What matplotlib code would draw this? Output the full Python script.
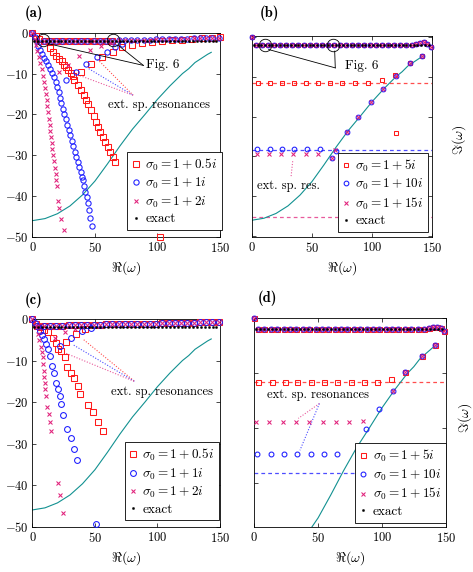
import matplotlib
matplotlib.use('Agg')
import matplotlib.pyplot as plt

plt.rcParams.update({
    'font.family': 'serif', 'font.serif': ['cmr10'], 'mathtext.fontset': 'cm',
    'axes.formatter.use_mathtext': True, 'font.size': 9, 'axes.linewidth': 0.6,
})

RED = '#ff1a1a'; BLUE = '#1a1aff'; MAG = '#e0207a'; TEAL = '#129191'
RED_L = '#ff4d4d'; BLUE_L = '#4d4dff'; MAG_L = '#e85a9c'

# ---------------- shared data ----------------
exact_re = [1.5, 4.6, 7.7, 10.8, 13.9, 17.0, 20.1, 23.2, 26.3, 29.4, 32.5, 35.6, 38.7, 41.8, 44.9, 48.0,
            51.1, 54.2, 57.3, 60.4, 63.5, 66.6, 69.7, 72.8, 75.9, 79.0, 82.1, 85.2, 88.3, 91.4, 94.5, 97.6,
            100.7, 103.8, 106.9, 110.0, 113.1, 116.2, 119.3, 122.4, 125.5, 128.6, 131.7, 134.8, 137.9,
            141.0, 144.1, 147.2]
exact_im = [-2.0, -2.0, -2.0, -2.0, -2.0, -2.0, -2.0, -2.0, -2.0, -2.0, -2.0, -2.0, -2.0, -2.0, -2.0, -2.0,
            -2.0, -2.0, -2.0, -2.0, -2.0, -2.0, -2.0, -2.0, -2.0, -2.0, -2.0, -2.0, -2.0, -2.0, -2.0, -2.0,
            -2.0, -2.0, -2.0, -2.0, -2.0, -2.0, -2.0, -2.0, -2.0, -2.0, -2.0, -2.0, -2.0, -2.0, -2.0, -2.0]

teal_re = [0, 10, 20, 30, 40, 50, 60, 70, 80, 90, 100, 110, 120, 125, 130, 135, 140, 143]
teal_im = [-46.0, -45.5, -44.3, -42.4, -39.7, -36.3, -32.1, -27.7, -23.6, -20.0, -16.3, -13.0, -10.0,
           -8.8, -7.3, -6.3, -5.3, -4.8]

xticks = [0, 50, 100, 150]

# ---------------- panel (a) ----------------
a_band_re = [4, 9, 14, 19, 24, 29, 34, 39, 44, 49, 54, 59, 64, 69, 74, 79, 84, 89, 94, 99, 104, 109,
             114, 119, 124, 129, 134, 139, 144, 149]
a_band_im = [-2.0, -2.0, -2.0, -2.0, -2.0, -2.0, -2.0, -2.0, -2.0, -2.0, -2.0, -2.0, -2.0, -1.9, -1.9,
             -1.8, -1.8, -1.7, -1.7, -1.6, -1.6, -1.6, -1.5, -1.5, -1.5, -1.4, -1.4, -1.3, -1.3, -1.2]
a_red_re = [0.0, 2.5, 5.0, 13.7, 16.4, 19.0, 20.9, 23.3, 25.1, 27.0, 28.3, 30.5, 32.3, 33.6, 36.3, 39.0,
            41.1, 43.0, 44.3, 46.9, 49.1, 50.9, 52.3, 54.4, 56.3, 58.1, 60.2, 62.4, 64.2, 66.1, 102.0,
            39.0, 46.9, 55.5, 64.2, 72, 80, 88, 96, 104, 112, 120, 128, 136, 144, 150,
            9, 14, 19, 24, 29, 34, 39, 44, 49, 54, 59, 64]
a_red_im = [0.0, -0.8, -1.5, -3.8, -4.6, -5.6, -6.4, -7.0, -7.9, -8.5, -9.1, -9.9, -10.6, -11.5, -12.8,
            -14.0, -15.2, -16.5, -17.5, -18.9, -20.3, -21.8, -23.0, -24.2, -25.5, -26.7, -27.9, -29.1,
            -30.4, -31.6, -50.0,
            -9.5, -7.7, -6.0, -4.6, -3.4, -2.9, -2.6, -2.3, -2.1, -1.9, -1.7, -1.5, -1.4, -1.2, -1.1,
            -2.0, -2.0, -2.0, -2.0, -2.0, -2.0, -2.0, -2.0, -2.0, -2.0, -2.0, -2.0]
a_blue_re = [0.0, 2.0, 4.4, 6.0, 7.6, 9.2, 10.8, 12.4, 14.0, 15.6, 17.3, 19.0, 20.0, 21.2, 22.1, 23.0,
             24.2, 25.4, 26.6, 27.8, 28.9, 30.1, 31.3, 32.6, 33.8, 35.0, 36.1, 37.3, 38.6, 39.6, 40.3,
             41.3, 42.3, 43.3, 44.3, 45.3, 46.3, 47.4,
             27.2, 35.1, 42.9, 51.5, 59.8, 66.0, 72.0]
a_blue_im = [0.0, -1.0, -3.3, -4.2, -5.1, -6.1, -7.0, -8.0, -9.0, -9.9, -10.9, -12.0, -13.3, -14.5,
             -15.9, -17.3, -18.6, -19.9, -21.2, -22.5, -23.8, -25.1, -26.4, -27.7, -29.1, -30.4, -31.6,
             -32.9, -34.2, -35.2, -36.1, -37.5, -38.9, -40.3, -41.8, -43.3, -45.4, -47.4,
             -11.6, -9.6, -7.7, -6.0, -4.6, -3.5, -2.7]
a_mag_re = [0.0, 2.0, 3.0, 4.0, 5.1, 6.2, 7.3, 8.3, 9.2, 10.0, 10.7, 11.3, 11.9, 12.5, 13.1, 13.7, 14.3,
            14.9, 15.4, 16.0, 16.6, 17.3, 17.9, 18.6, 19.2, 19.8, 20.5, 21.6, 23.0, 25.0,
            21.5, 28.5, 37.5, 46.2, 55.0, 63.0]
a_mag_im = [0.0, -1.5, -3.0, -4.5, -6.0, -7.5, -9.0, -10.5, -12.0, -13.5, -15.0, -16.5, -18.0, -19.5,
            -21.0, -22.5, -24.0, -25.5, -27.0, -28.5, -30.0, -31.5, -33.0, -34.5, -36.0, -37.5, -41.3,
            -43.0, -45.5, -48.2,
            -9.6, -7.8, -5.8, -4.2, -3.2, -2.6]
a_fig6_circ_re = [8.8, 64.7]
a_fig6_circ_im = [-1.9, -1.7]
a_fig6_from_re = [12.8, 68.7]
a_fig6_from_im = [-2.7, -3.1]
a_fig6_to = [88.7, -8.0]
a_fig6_text = [91.0, -8.0]
a_res_from_re = [52.0, 45.0, 38.0]
a_res_from_im = [-6.5, -8.8, -10.5]
a_res_to = [80.5, -15.3]
a_res_text = [101.0, -17.6]

# ---------------- panel (c) ----------------
c_band_re = a_band_re
c_band_im = [-1.7, -1.7, -1.6, -1.6, -1.6, -1.5, -1.5, -1.5, -1.4, -1.4, -1.4, -1.3, -1.3, -1.3, -1.2,
             -1.2, -1.2, -1.1, -1.1, -1.1, -1.0, -1.0, -1.0, -0.9, -0.9, -0.9, -0.8, -0.8, -0.8, -0.7]
c_red_re = [0.0, 3.0, 6.0, 9.5, 12.4, 16.4, 19.0, 23.0, 25.7, 27.8, 30.5, 33.1, 36.3, 38.4, 44.3, 48.3,
            52.3, 56.3, 20.5, 27.0, 34.5, 42.0]
c_red_im = [0.0, -1.2, -2.0, -2.6, -3.2, -4.6, -5.9, -7.6, -9.2, -11.5, -12.9, -14.2, -16.1, -18.1,
            -20.7, -22.5, -24.7, -27.1, -7.3, -5.5, -3.5, -2.4]
c_blue_re = [0.0, 2.0, 5.7, 7.4, 9.2, 10.8, 12.4, 14.0, 15.6, 17.2, 19.0, 20.4, 21.7, 23.0, 24.5, 27.8,
             30.5, 33.1, 35.8, 50.8, 21.7, 31.2, 39.3, 47.0]
c_blue_im = [0.0, -1.0, -2.8, -3.8, -4.8, -6.0, -7.2, -8.8, -11.3, -12.9, -15.3, -16.9, -18.5, -20.5,
             -23.2, -26.5, -28.7, -31.4, -34.0, -49.4, -6.4, -4.5, -3.0, -2.2]
c_mag_re = [0.0, 2.8, 4.4, 5.6, 7.0, 7.8, 8.4, 8.8, 9.2, 9.5, 9.7, 10.2, 11.0, 11.8, 12.9, 13.7, 14.5,
            20.5, 22.3, 24.5, 18.0, 26.0, 34.0]
c_mag_im = [0.0, -2.0, -3.6, -5.0, -6.8, -8.0, -9.2, -10.8, -12.5, -14.0, -15.3, -16.9, -18.5, -21.3,
            -22.9, -24.9, -27.1, -39.5, -42.3, -46.7, -4.6, -3.2, -2.3]
c_res_from_re = [41.0, 33.0, 27.0]
c_res_from_im = [-5.0, -6.3, -8.3]
c_res_to = [82.0, -15.1]
c_res_text = [104.0, -17.6]

# ---------------- panel (b) ----------------
b_band_re = [0, 3, 8, 13, 18, 23, 28, 33, 38, 43, 48, 53, 58, 63, 68, 73, 78, 83, 88, 93, 98, 103, 108,
             113, 118, 123, 128, 133, 137, 140, 143, 146, 149]
b_band_im = [0.0, -2.0, -2.0, -2.0, -2.0, -2.0, -2.0, -2.0, -2.0, -2.0, -2.0, -2.0, -2.0, -2.0, -2.0,
             -2.0, -2.0, -2.0, -2.0, -2.0, -2.0, -2.0, -2.0, -2.0, -2.0, -2.0, -2.0, -2.0, -1.8, -1.5,
             -1.4, -1.7, -2.5]
b_red_re = [5, 15, 25, 35, 45, 55, 65, 75, 86, 97, 108, 119, 132, 142, 120]
b_red_im = [-11.5, -11.5, -11.5, -11.5, -11.5, -11.5, -11.5, -11.5, -11.5, -11.5, -10.9, -9.5, -6.6,
            -4.7, -24.2]
b_blue_re = [4.4, 15.0, 25.3, 35.3, 45.6, 56.7, 66.4, 70.0, 78.9, 88.6, 99.2, 109.4, 119.7, 132.0, 142.0]
b_blue_im = [-28.2, -28.2, -28.2, -28.2, -28.2, -28.2, -30.4, -28.6, -23.8, -20.1, -16.3, -13.2, -9.9,
             -6.6, -4.7]
b_mag_re = [4.4, 14.2, 24.2, 34.4, 44.7, 54.7, 66.4, 69.5, 78.9, 88.6, 99.2, 109.4, 119.7, 132.0, 142.0]
b_mag_im = [-29.4, -29.4, -29.4, -29.4, -29.4, -29.4, -30.4, -28.3, -23.8, -20.1, -16.3, -13.2, -9.9,
            -6.6, -4.7]
b_asym_im = [-11.5, -28.3, -45.3]
b_fig6_circ_re = [10.6, 67.5]
b_fig6_circ_im = [-2.0, -2.0]
b_fig6_from_re = [13.9, 68.9]
b_fig6_from_im = [-3.2, -3.6]
b_fig6_to = [69.4, -7.8]
b_fig6_text = [77.5, -7.4]
b_res_line_re = [33.9, 32.5]
b_res_line_im = [-31.2, -35.2]
b_res_text = [4.0, -37.5]

# ---------------- panel (d) ----------------
d_band_re = b_band_re
d_band_im = [0.0, -2.0, -2.0, -2.0, -2.0, -2.0, -2.0, -2.0, -2.0, -2.0, -2.0, -2.0, -2.0, -2.0, -2.0,
             -2.0, -2.0, -2.0, -2.0, -2.0, -2.0, -2.0, -2.0, -2.0, -2.0, -2.0, -2.0, -2.0, -1.8, -1.6,
             -1.5, -1.7, -2.3]
d_red_re = [3.1, 13.6, 24.1, 33.7, 44.2, 54.6, 65.1, 75.5, 86.0, 96.4, 106.9, 118.1, 131.2, 141.6]
d_red_im = [-11.5, -11.5, -11.5, -11.5, -11.5, -11.5, -11.5, -11.5, -11.5, -11.5, -11.1, -9.7, -6.8, -4.85]
d_blue_re = [2.4, 12.9, 23.3, 33.7, 44.2, 54.6, 65.1, 87.5, 97.7, 108.5, 118.1, 131.2, 141.6]
d_blue_im = [-24.7, -24.7, -24.7, -24.7, -24.7, -24.7, -24.7, -20.1, -16.5, -13.2, -9.7, -6.8, -4.85]
d_mag_re = [1.3, 11.8, 22.3, 32.7, 43.1, 53.6, 64.0, 74.5, 85.4, 108.5, 118.1, 131.2, 141.6]
d_mag_im = [-18.9, -18.9, -18.9, -18.9, -18.9, -18.9, -18.9, -18.9, -18.7, -13.2, -9.7, -6.8, -4.85]
d_asym_im = [-11.5, -28.2]
d_res_from = [51.0, -15.5]
d_res_to_re = [34.5, 35.8]
d_res_to_im = [-18.2, -24.0]
d_res_text = [50.0, -13.9]

labels_ac = [r'$\sigma_0 = 1 + 0.5i$', r'$\sigma_0 = 1 + 1i$', r'$\sigma_0 = 1 + 2i$', 'exact']
labels_bd = [r'$\sigma_0 = 1 + 5i$', r'$\sigma_0 = 1 + 10i$', r'$\sigma_0 = 1 + 15i$', 'exact']

fig = plt.figure(figsize=(4.73, 5.72), dpi=100)
axA = fig.add_axes([0.0687, 0.5857, 0.3964, 0.3571])
axB = fig.add_axes([0.5328, 0.5857, 0.3805, 0.3514])
axC = fig.add_axes([0.0687, 0.0795, 0.3964, 0.3628])
axD = fig.add_axes([0.5376, 0.0792, 0.4047, 0.3643])


def style(ax, ylim, yticks, ylabels):
    ax.set_xlim(0, 150)
    ax.set_ylim(*ylim)
    ax.set_xticks(xticks)
    ax.set_yticks(yticks)
    if not ylabels:
        ax.set_yticklabels([])
    ax.tick_params(direction='in', top=True, right=True, length=3, width=0.5, labelsize=9, pad=3)
    ax.set_xlabel(r'$\Re(\omega)$', fontsize=10, labelpad=3)


def series(ax, rr, ri, br, bi, mr, mi, ms, labels, loc_anchor):
    ax.plot(teal_re, teal_im, color=TEAL, lw=0.8, zorder=2)
    h1, = ax.plot(rr, ri, ls='none', marker='s', ms=ms[0], color=RED, mfc='none', mec=RED, mew=0.75,
                  clip_on=False, zorder=3)
    h2, = ax.plot(br, bi, ls='none', marker='o', ms=ms[1], color=BLUE, mfc='none', mec=BLUE, mew=0.75,
                  clip_on=False, zorder=4)
    h3, = ax.plot(mr, mi, ls='none', marker='x', ms=ms[2], color=MAG, mec=MAG, mew=0.75,
                  clip_on=False, zorder=5)
    h4, = ax.plot(exact_re, exact_im, ls='none', marker='o', ms=1.7, color='black', mfc='black',
                  mec='black', mew=0.2, clip_on=False, zorder=6)
    leg = ax.legend([h1, h2, h3, h4], labels, loc='lower right', bbox_to_anchor=loc_anchor,
                    fontsize=9.5, frameon=True, fancybox=False, edgecolor='black', framealpha=1,
                    handlelength=0.6, handletextpad=0.4, borderpad=0.35, labelspacing=0.25,
                    borderaxespad=0.0)
    leg.get_frame().set_linewidth(0.6)
    leg.set_zorder(10)


# (a)
style(axA, (-50, 0), [-50, -40, -30, -20, -10, 0], True)
series(axA, a_red_re, a_red_im, a_blue_re + a_band_re, a_blue_im + a_band_im,
       a_mag_re + a_band_re, a_mag_im + a_band_im, (3.8, 3.8, 3.0), labels_ac, (1.01, 0.035))
axA.plot(a_fig6_circ_re, a_fig6_circ_im, ls='none', marker='o', ms=9, mfc='none', mec='black', mew=0.6, zorder=7)
for x0, y0 in zip(a_fig6_from_re, a_fig6_from_im):
    axA.plot([x0, a_fig6_to[0]], [y0, a_fig6_to[1]], color='black', lw=0.6, zorder=7)
axA.text(a_fig6_text[0], a_fig6_text[1], 'Fig. 6', fontsize=9.5, va='center', ha='left')
for x0, y0, c in zip(a_res_from_re, a_res_from_im, [RED_L, BLUE_L, MAG_L]):
    axA.plot([x0, a_res_to[0]], [y0, a_res_to[1]], color=c, lw=0.8, ls=(0, (1, 1.5)), zorder=2)
axA.text(a_res_text[0], a_res_text[1], 'ext. sp. resonances', fontsize=9, ha='center', va='center')

# (c)
style(axC, (-50, 0), [-50, -40, -30, -20, -10, 0], True)
series(axC, c_red_re + c_band_re, c_red_im + c_band_im, c_blue_re + c_band_re, c_blue_im + c_band_im,
       c_mag_re + c_band_re, c_mag_im + c_band_im, (4.6, 4.2, 3.2), labels_ac, (0.995, 0.03))
for x0, y0, c in zip(c_res_from_re, c_res_from_im, [RED_L, BLUE_L, MAG_L]):
    axC.plot([x0, c_res_to[0]], [y0, c_res_to[1]], color=c, lw=0.8, ls=(0, (1, 1.5)), zorder=2)
axC.text(c_res_text[0], c_res_text[1], 'ext. sp. resonances', fontsize=9, ha='center', va='center')

# (b)
style(axB, (-50.2, 0.2), [-50, -40, -30, -20, -10, 0], False)
for y, c in zip(b_asym_im, [RED_L, BLUE_L, MAG_L]):
    axB.axhline(y, color=c, lw=0.9, ls=(0, (3, 2.5)), zorder=1)
series(axB, b_red_re + b_band_re, b_red_im + b_band_im, b_blue_re + b_band_re, b_blue_im + b_band_im,
       b_mag_re + b_band_re, b_mag_im + b_band_im, (3.5, 3.4, 2.8), labels_bd, (0.98, 0.025))
axB.plot(b_fig6_circ_re, b_fig6_circ_im, ls='none', marker='o', ms=9, mfc='none', mec='black', mew=0.6, zorder=7)
for x0, y0 in zip(b_fig6_from_re, b_fig6_from_im):
    axB.plot([x0, b_fig6_to[0]], [y0, b_fig6_to[1]], color='black', lw=0.6, zorder=7)
axB.text(b_fig6_text[0], b_fig6_text[1], 'Fig. 6', fontsize=9.5, va='center', ha='left')
axB.plot(b_res_line_re, b_res_line_im, color=MAG_L, lw=0.8, ls=(0, (1, 1.5)), zorder=2)
axB.text(b_res_text[0], b_res_text[1], 'ext. sp. res.', fontsize=9, ha='left', va='center')

# (d)
style(axD, (-37.9, 0), [-30, -20, -10, 0], False)
for y, c in zip(d_asym_im, [RED_L, BLUE_L]):
    axD.axhline(y, color=c, lw=0.9, ls=(0, (3, 2.5)), zorder=1)
series(axD, d_red_re + d_band_re, d_red_im + d_band_im, d_blue_re + d_band_re, d_blue_im + d_band_im,
       d_mag_re + d_band_re, d_mag_im + d_band_im, (3.6, 3.5, 2.9), labels_bd, (1.0, 0.02))
for x1, y1, c in zip(d_res_to_re, d_res_to_im, [MAG_L, BLUE_L]):
    axD.plot([d_res_from[0], x1], [d_res_from[1], y1], color=c, lw=0.8, ls=(0, (1, 1.5)), zorder=2)
axD.text(d_res_text[0], d_res_text[1], 'ext. sp. resonances', fontsize=9, ha='center', va='center')

# panel labels and right-side y labels
for x, y, s in [(0.053, 0.977, '(a)'), (0.55, 0.977, '(b)'), (0.053, 0.4755, '(c)'), (0.5455, 0.479, '(d)')]:
    fig.text(x, y, s, fontfamily='cmb10', fontsize=10.5, ha='left', va='center')
fig.text(0.970, 0.755, r'$\Im(\omega)$', rotation=90, fontsize=10, ha='center', va='center')
fig.text(0.983, 0.269, r'$\Im(\omega)$', rotation=90, fontsize=10, ha='center', va='center')

fig.savefig('out.png', dpi=100)
